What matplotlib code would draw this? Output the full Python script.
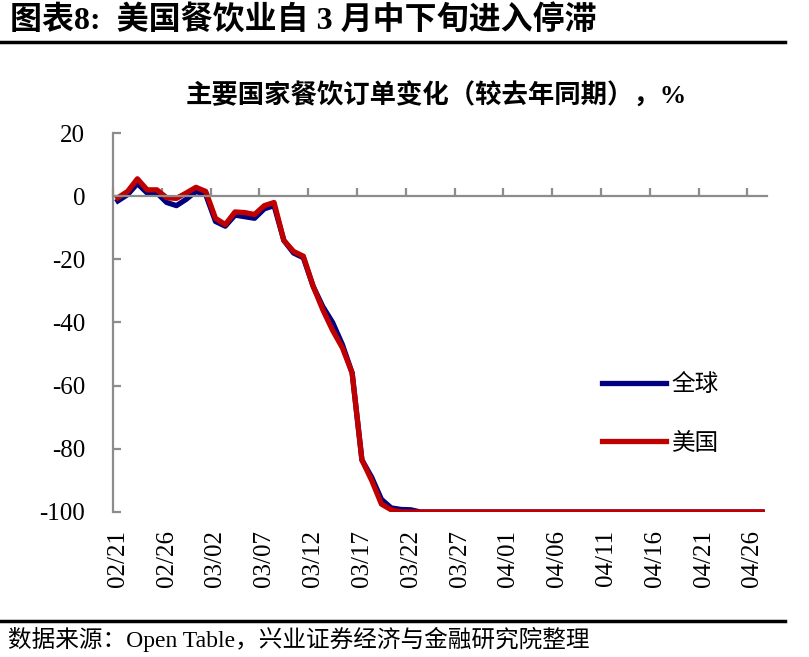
import matplotlib.pyplot as plt
import pandas as pd
from matplotlib.lines import Line2D

# Times-like digits/latin, CJK falls back to Noto Sans CJK SC
plt.rcParams['font.family'] = ['Liberation Serif', 'Noto Sans CJK SC']
plt.rcParams['axes.unicode_minus'] = False

C_GLOBAL = '#000080'   # navy
C_US = '#C00000'       # dark red
C_AXIS = '#8C8C8C'

# daily, 2020-02-21 .. 2020-04-27
dates = pd.date_range('2020-02-21', '2020-04-27', freq='D')
date_labels = [d.strftime('%m/%d') for d in dates]

global_yoy = [
    -1.5, 0.5, 4.0, 1.0, 1.0, -2.0, -3.0, -1.0, 1.5, 0.5,
    -8.0, -9.5, -6.0, -6.5, -7.0, -4.0, -3.0, -14.0, -18.0, -19.5,
    -28.5, -35.0, -40.0, -47.0, -56.0, -83.5, -89.0, -96.0, -98.7, -99.2,
    -99.3, -100, -100, -100, -100, -100, -100, -100, -100, -100,
    -100, -100, -100, -100, -100, -100, -100, -100, -100, -100,
    -100, -100, -100, -100, -100, -100, -100, -100, -100, -100,
    -100, -100, -100, -100, -100, -100, -100,
]
us_yoy = [
    -0.5, 1.5, 5.5, 2.0, 2.0, -0.5, -0.7, 1.0, 2.8, 1.5,
    -7.0, -9.0, -5.0, -5.2, -5.8, -3.0, -2.0, -14.0, -17.5, -19.0,
    -28.5, -36.0, -42.5, -48.0, -56.0, -83.5, -90.0, -97.5, -99.3, -100,
    -100, -100, -100, -100, -100, -100, -100, -100, -100, -100,
    -100, -100, -100, -100, -100, -100, -100, -100, -100, -100,
    -100, -100, -100, -100, -100, -100, -100, -100, -100, -100,
    -100, -100, -100, -100, -100, -100, -100,
]

W, H = 809, 657
fig = plt.figure(figsize=(W / 100, H / 100), dpi=100)
ax = fig.add_axes([113 / W, 1 - 512 / H, 654 / W, 379 / H])

x = list(range(len(dates)))
ax.plot(x, global_yoy, color=C_GLOBAL, lw=3.8, label='全球', solid_joinstyle='round')
ax.plot(x, us_yoy, color=C_US, lw=3.8, label='美国', solid_joinstyle='round')

ax.set_xlim(-0.5, len(x) - 0.5)
ax.set_ylim(-100, 20)
ax.set_yticks(range(-100, 21, 20))

for s in ('top', 'right'):
    ax.spines[s].set_visible(False)
ax.spines['bottom'].set_position(('data', 0))
ax.spines['bottom'].set_color(C_AXIS)
ax.spines['left'].set_color(C_AXIS)
ax.spines['bottom'].set_linewidth(1.6)
ax.spines['left'].set_linewidth(1.6)

# tick marks between categories on the zero line, labels on the bottom
ax.set_xticks([i - 0.5 for i in x[::5]])
ax.set_xticklabels([])
ax.tick_params(axis='x', direction='in', length=6, width=1.6, color=C_AXIS)
ax.tick_params(axis='y', direction='in', length=6, width=1.6, color=C_AXIS,
               labelsize=18, pad=20)

sec = ax.secondary_xaxis('bottom')
sec.set_xticks(x[::5], [date_labels[i] for i in x[::5]])
sec.spines['bottom'].set_visible(False)
sec.tick_params(length=0, pad=13, labelsize=18, labelrotation=90)

ax.legend(loc='upper left', bbox_to_anchor=(0.715, 0.42), frameon=False,
          fontsize=17, handlelength=2.7, handletextpad=0.25, labelspacing=1.55)

fig.text(10 / W, 1 - 20 / H, '图表8:  美国餐饮业自 3 月中下旬进入停滞',
         ha='left', va='center', fontsize=23, fontweight='bold')
fig.add_artist(Line2D([0, 0.97], [1 - 42 / H] * 2, color='black', lw=2.5))
fig.text(436 / W, 1 - 95 / H, '主要国家餐饮订单变化（较去年同期），%',
         ha='center', va='center', fontsize=19, fontweight='bold')
fig.add_artist(Line2D([0, 0.97], [1 - 621 / H] * 2, color='black', lw=2.5))
fig.text(8 / W, 1 - 639 / H, '数据来源：Open Table，兴业证券经济与金融研究院整理',
         ha='left', va='center', fontsize=17)

fig.savefig('out.png', dpi=100)
